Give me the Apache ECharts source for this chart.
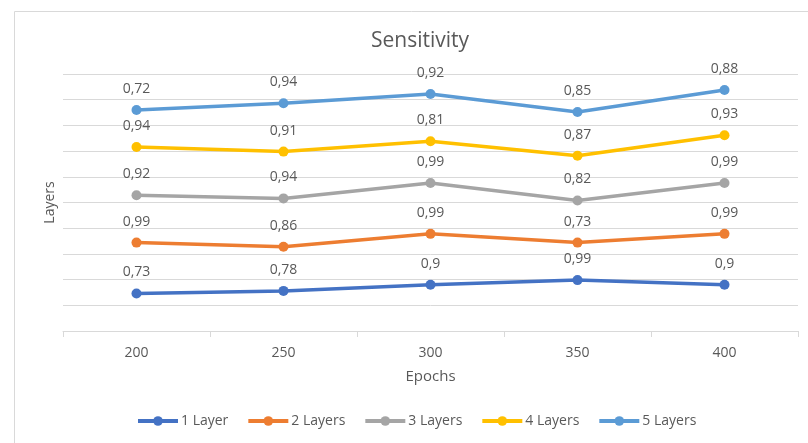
<!DOCTYPE html>
<html><head><meta charset="utf-8">
<script src="https://cdn.jsdelivr.net/npm/echarts@6/dist/echarts.min.js"></script>
<style>html,body{margin:0;padding:0;background:#fff}#c{width:808px;height:443px}</style>
</head><body><div id="c"></div>
<script>
var categories = ['200', '250', '300', '350', '400'];
var seriesNames = ['1 Layer', '2 Layers', '3 Layers', '4 Layers', '5 Layers'];
var layer1 = [0.73, 0.78, 0.9, 0.99, 0.9];
var layer2 = [0.99, 0.86, 0.99, 0.73, 0.99];
var layer3 = [0.92, 0.94, 0.99, 0.82, 0.99];
var layer4 = [0.94, 0.91, 0.81, 0.87, 0.93];
var layer5 = [0.72, 0.94, 0.92, 0.85, 0.88];
var colors = ['#4472C4', '#ED7D31', '#A5A5A5', '#FFC000', '#5B9BD5'];
var allData = [layer1, layer2, layer3, layer4, layer5];
var FONT = 'Open Sans';
var chart = echarts.init(document.getElementById('c'));
chart.setOption({
  animation: false,
  textStyle: {fontFamily: FONT},
  graphic: [{type: 'rect', shape: {x: 14.5, y: 11.5, width: 800, height: 440}, style: {fill: 'none', stroke: '#d9d9d9', lineWidth: 1}, silent: true}],
  title: {text: 'Sensitivity', left: 366, top: 26, textStyle: {fontFamily: FONT, fontSize: 21, fontWeight: 'normal', color: '#595959'}},
  legend: {bottom: 10, left: 131, itemWidth: 40, itemHeight: 12, itemGap: 18,
    lineStyle: {width: 4},
    textStyle: {fontFamily: FONT, fontSize: 14, color: '#595959', padding: [0, 0, 0, -2]}, data: seriesNames},
  grid: {left: 63, right: 10, top: 74, bottom: 112},
  xAxis: {type: 'category', data: categories, boundaryGap: true,
    name: 'Epochs', nameLocation: 'middle', nameGap: 38,
    nameTextStyle: {fontFamily: FONT, fontSize: 15, color: '#595959'},
    axisLine: {lineStyle: {color: '#d9d9d9'}},
    axisTick: {show: true, length: 6, lineStyle: {color: '#d9d9d9'}},
    axisLabel: {fontFamily: FONT, fontSize: 14, color: '#595959', margin: 15}},
  yAxis: {type: 'value', min: 0, max: 5, interval: 0.5,
    name: 'Layers', nameLocation: 'middle', nameGap: 6, nameRotate: 90,
    nameTextStyle: {fontFamily: FONT, fontSize: 14, color: '#595959'},
    axisLine: {show: false}, axisTick: {show: false}, axisLabel: {show: false},
    splitLine: {lineStyle: {color: '#d9d9d9', width: 1}}},
  series: seriesNames.map(function (n, i) {
    return {name: n, type: 'line', stack: 'total', data: allData[i],
      color: colors[i], symbol: 'circle', symbolSize: 10,
      lineStyle: {width: 3.5, color: colors[i]}, itemStyle: {color: colors[i]},
      label: {show: true, position: 'top', distance: 9, fontFamily: FONT, fontSize: 14, color: '#595959',
        formatter: function (p) { return String(allData[i][p.dataIndex]).replace('.', ','); }}};
  })
});
</script></body></html>
